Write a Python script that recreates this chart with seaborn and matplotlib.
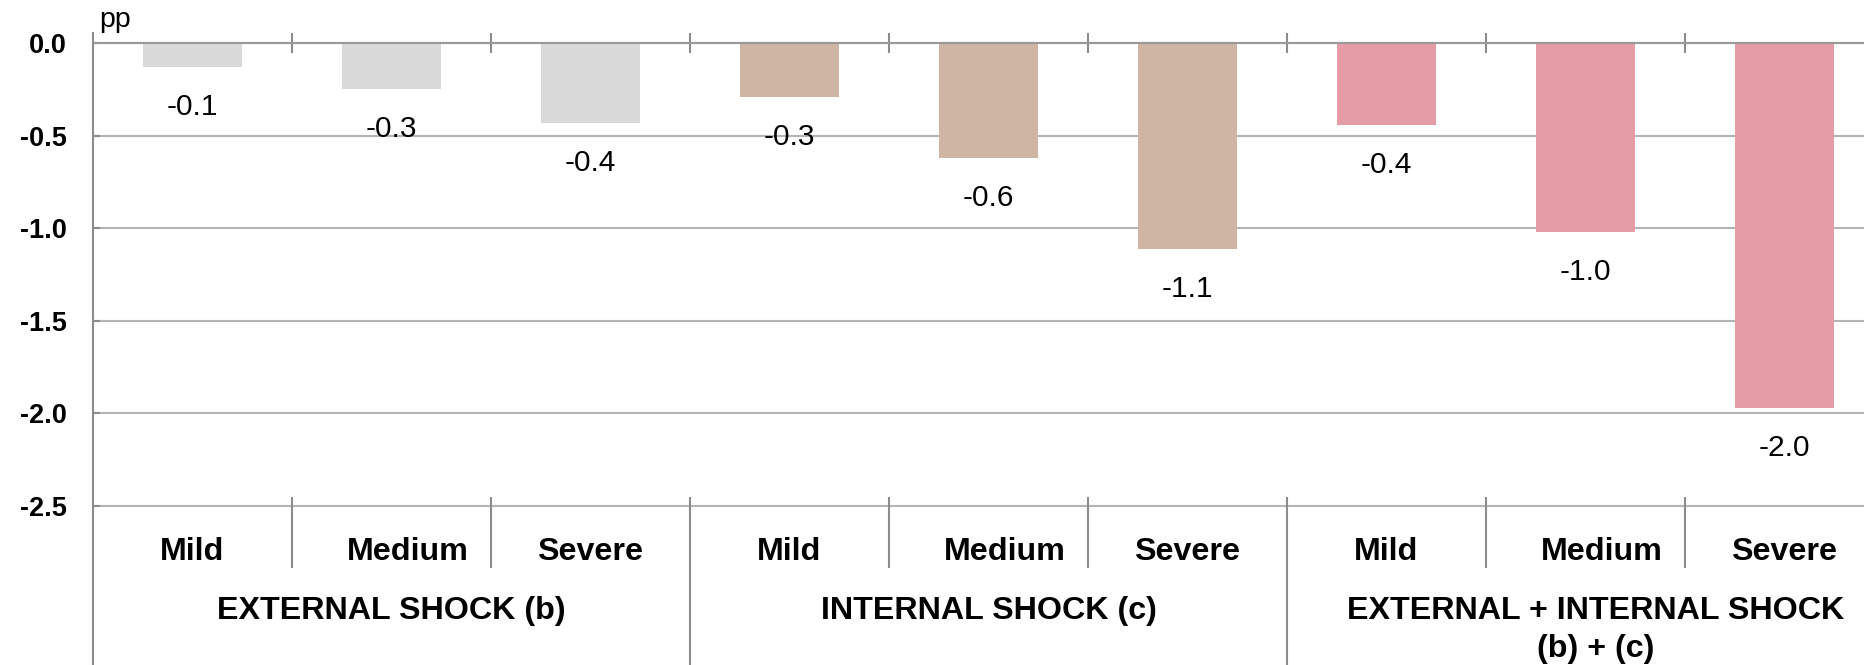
import numpy as np
import pandas as pd
import matplotlib
matplotlib.use("Agg")
import matplotlib.pyplot as plt
import seaborn as sns

# ---------------- data ----------------
groups = ["EXTERNAL SHOCK (b)", "INTERNAL SHOCK (c)", "EXTERNAL + INTERNAL SHOCK\n(b) + (c)"]
severities = ["Mild", "Medium", "Severe"]
external_values = [-0.13, -0.25, -0.43]
internal_values = [-0.29, -0.62, -1.11]
combined_values = [-0.44, -1.02, -1.97]
value_labels = ["-0.1", "-0.3", "-0.4", "-0.3", "-0.6", "-1.1", "-0.4", "-1.0", "-2.0"]
y_ticks = [0.0, -0.5, -1.0, -1.5, -2.0, -2.5]
y_tick_labels = ["0.0", "-0.5", "-1.0", "-1.5", "-2.0", "-2.5"]
unit_label = "pp"
colors = ["#d9d9d9", "#cfb5a4", "#e59ca6"]

rows = []
for g, vals in zip(groups, [external_values, internal_values, combined_values]):
    for s, v in zip(severities, vals):
        rows.append({"group": g, "severity": s, "key": f"{g}|{s}", "value": v})
df = pd.DataFrame(rows)
keys = list(df["key"])

# ---------------- layout (pixels) ----------------
W, H = 1865, 665
AX_L, AX_TOP, AX_BOT = 93, 33, 507
CAT_W = 199
LINE_C = "#8c8c8c"

sns.set_theme(style="white")
plt.rcParams["font.family"] = ["Liberation Sans", "DejaVu Sans"]

fig = plt.figure(figsize=(W / 100, H / 100), dpi=100)
ax = fig.add_axes([AX_L / W, (H - AX_BOT) / H, 9 * CAT_W / W, (AX_BOT - AX_TOP) / H])

sns.barplot(data=df, x="key", y="value", hue="group", order=keys, hue_order=groups,
            palette=colors, width=0.5, dodge=False, legend=False, saturation=1,
            errorbar=None, linewidth=0, ax=ax)

ax.set_xlim(-0.5, 8.5)
ax.set_ylim(-2.505, 0.054)


def fy(py):
    """pixel row -> axes fraction"""
    return (AX_BOT - py) / (AX_BOT - AX_TOP)


# grid & spines
ax.set_yticks(y_ticks)
ax.set_yticklabels(y_tick_labels, fontsize=19.5, fontweight="bold", color="black")
ax.yaxis.grid(True, color="#b4b4b4", lw=1.5)
ax.xaxis.grid(False)
ax.set_axisbelow(True)
ax.axhline(0, color="#999999", lw=1.5, zorder=3)
for sp in ["top", "right", "bottom"]:
    ax.spines[sp].set_visible(False)
ax.spines["left"].set_color(LINE_C)
ax.spines["left"].set_linewidth(1.5)
ax.tick_params(axis="y", direction="in", length=5, width=1.5, color=LINE_C, pad=19, left=True)
ax.set_xticks([])
ax.set_xlabel("")
ax.set_ylabel("")

xt = ax.get_xaxis_transform()
lk = dict(transform=xt, clip_on=False, color=LINE_C, lw=1.5, solid_capstyle="butt")

# ticks across the zero line at category boundaries
for b in np.arange(0.5, 8.5, 1.0):
    ax.plot([b, b], [fy(33), fy(53)], **lk)

# separators below the axis
for b in np.arange(0.5, 8.5, 1.0):
    if b in (2.5, 5.5):
        ax.plot([b, b], [fy(497), fy(H)], **lk)
    else:
        ax.plot([b, b], [fy(497), fy(568)], **lk)
ax.plot([-0.5, -0.5], [fy(AX_BOT), fy(H)], **lk)

# value labels below each bar
for i, (v, lab) in enumerate(zip(df["value"], value_labels)):
    ax.annotate(lab, (i, v), xytext=(0, -37 * 0.72), textcoords="offset points",
                ha="center", va="center_baseline", fontsize=21.5, color="black")

# category labels
for i, s in enumerate(df["severity"]):
    nudge = 0.08 if s == "Medium" else 0.0
    ax.text(i + nudge, fy(560), s, transform=xt, ha="center", va="baseline",
            fontsize=23.2, fontweight="bold", color="black", clip_on=False)

# group labels
for gi, g in enumerate(groups):
    xc = gi * 3 + 1 + (0.05 if gi == 2 else 0.0)
    for li, line in enumerate(g.split("\n")):
        ax.text(xc, fy(619 + 38 * li), line, transform=xt, ha="center", va="baseline",
                fontsize=23.2, fontweight="bold", color="black", clip_on=False)

# unit label
fig.text(99 / W, 1 - 27 / H, unit_label, ha="left", va="baseline", fontsize=20.5, color="black")

fig.savefig("out.png", dpi=100)
